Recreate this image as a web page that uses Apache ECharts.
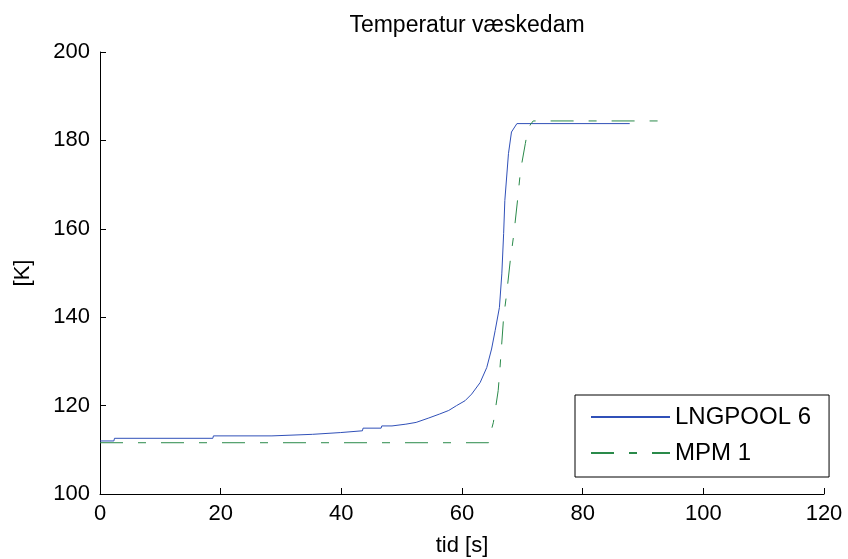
<!DOCTYPE html>
<html>
<head>
<meta charset="utf-8">
<script src="https://cdn.jsdelivr.net/npm/echarts@6/dist/echarts.min.js"></script>
<style>html,body{margin:0;padding:0;background:#fff;}#c{width:848px;height:559px;}</style>
</head>
<body>
<div id="c"></div>
<script>
const titleText = 'Temperatur væskedam';
const xName = 'tid [s]';
const yName = '[K]';
const seriesNames = ['LNGPOOL 6', 'MPM 1'];

const lngTime = [0, 2.3, 2.4, 18.7, 18.8, 28.5, 28.6, 35.2, 35.3, 39.9, 40, 43.5, 43.6, 46.6, 46.7, 48.4, 48.5, 50.7, 50.8, 52.4, 52.5, 54.5, 56.3, 57.8, 59.1, 60.5, 61.6, 63.0, 64.1, 64.9, 65.5, 66.2, 66.6, 66.9, 67.1, 67.7, 68.2, 69.1, 87.8];
const lngTemp = [112.0, 112.0, 112.6, 112.6, 113.15, 113.15, 113.5, 113.5, 113.9, 113.9, 114.3, 114.3, 114.9, 114.9, 115.4, 115.4, 115.8, 115.8, 116.2, 116.2, 116.6, 117.2, 118.1, 118.9, 120.0, 121.1, 122.6, 125.2, 128.6, 132.8, 137.0, 142.2, 149.8, 158.9, 166.4, 177.0, 181.9, 183.8, 183.8];

const mpmTime = [0, 64.4, 64.5, 65.2, 66.0, 66.3, 66.9, 67.4, 68.0, 68.6, 69.2, 69.7, 70.5, 70.8, 71.3, 71.8, 93.0];
const mpmTemp = [111.6, 111.6, 112.6, 116.2, 123.4, 128.6, 140.0, 145.3, 152.8, 158.9, 166.4, 173.2, 179.3, 181.6, 183.5, 184.4, 184.4];

const xMin = 0, xMax = 120, xStep = 20;
const yMin = 100, yMax = 200, yStep = 20;

const pairs = (a, b) => a.map((v, i) => [v, b[i]]);
const font = 'Liberation Sans, Arial, Helvetica, sans-serif';

const chart = echarts.init(document.getElementById('c'), null, {renderer: 'canvas'});
chart.setOption({
  animation: false,
  backgroundColor: '#fff',
  title: {
    text: titleText,
    left: 462,
    textAlign: 'center',
    top: 9,
    textStyle: {fontFamily: font, fontSize: 23, fontWeight: 'normal', color: '#000'}
  },
  grid: {left: 100, right: 24, top: 52, bottom: 65, containLabel: false, outerBoundsMode: 'none'},
  xAxis: {
    type: 'value', min: xMin, max: xMax, interval: xStep,
    name: xName, nameLocation: 'middle', nameGap: 41,
    nameTextStyle: {fontFamily: font, fontSize: 22, color: '#000'},
    axisLine: {show: true, onZero: false, lineStyle: {color: '#000', width: 1}},
    axisTick: {show: true, inside: true, length: 6, lineStyle: {color: '#000'}},
    axisLabel: {fontFamily: font, fontSize: 22, color: '#000', margin: 9},
    splitLine: {show: false}
  },
  yAxis: {
    type: 'value', min: yMin, max: yMax, interval: yStep,
    name: yName, nameLocation: 'middle', nameGap: 66,
    nameTextStyle: {fontFamily: font, fontSize: 22, color: '#000'},
    axisLine: {show: true, onZero: false, lineStyle: {color: '#000', width: 1}},
    axisTick: {show: true, inside: true, length: 6, lineStyle: {color: '#000'}},
    axisLabel: {fontFamily: font, fontSize: 22, color: '#000', margin: 10},
    splitLine: {show: false}
  },
  legend: {
    orient: 'vertical',
    left: 575, top: 395,
    padding: [10, 18, 12, 15],
    itemGap: 12,
    itemWidth: 79, itemHeight: 10,
    backgroundColor: '#fff',
    borderColor: '#000', borderWidth: 1, borderRadius: 0,
    itemStyle: {opacity: 0},
    textStyle: {fontFamily: font, fontSize: 24, color: '#000'},
    data: seriesNames
  },
  series: [
    {
      name: seriesNames[0], type: 'line', data: pairs(lngTime, lngTemp),
      symbol: 'none', showSymbol: false,
      lineStyle: {color: '#3050b8', width: 1},
      itemStyle: {color: '#3050b8'}
    },
    {
      name: seriesNames[1], type: 'line', data: pairs(mpmTime, mpmTemp),
      symbol: 'none', showSymbol: false,
      lineStyle: {color: '#2a8a4a', width: 1, type: [23, 15, 8, 15]},
      itemStyle: {color: '#2a8a4a'}
    }
  ]
});
</script>
</body>
</html>
